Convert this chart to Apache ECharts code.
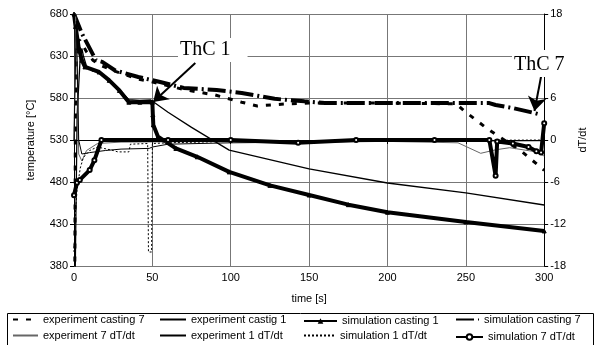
<!DOCTYPE html>
<html>
<head>
<meta charset="utf-8">
<script src="https://cdn.jsdelivr.net/npm/echarts@6/dist/echarts.min.js"></script>
<style>
    html, body { margin: 0; background: #fff; }
    #chart { width: 596px; height: 345px; }
</style>
</head>
<body>
<div id="chart"></div>
<script>
// === DATA: [time s, value] pairs ===
// temperatures [°C], left axis
const expCasting7 = [[0.5, 370], [1, 600], [2, 650], [4, 648], [8, 635], [12, 625], [18, 618], [26, 612], [40, 603], [55, 597], [70, 590], [90, 583.6], [107, 575], [117, 570.5], [135, 573], [150, 574], [200, 574], [244, 573], [249, 564.5], [264, 543], [286, 515.7], [300, 494]];
const expCastig1 = [[0.3, 300], [2, 560], [4, 630], [5, 639], [6, 630], [8, 618], [12, 612], [17, 610], [23, 601], [29, 590], [35, 578], [42, 577], [49, 577.6], [60, 563], [75, 545], [99, 518], [150, 495.5], [200, 478.8], [250, 467], [300, 452.6]];
const simCasting1 = [[0, 680], [1, 665], [3, 640], [5, 625], [7, 617], [16, 611], [22.5, 601], [29, 589], [35, 575], [42, 575], [50, 575], [50.3, 560], [50.6, 548], [53.6, 534], [65, 520], [78.6, 510], [99, 492], [125, 476], [150, 464.5], [175, 453], [200, 444], [250, 432.4], [300, 421.7]];
const simCasting7 = [[0, 680], [5, 657], [14, 625], [18, 623], [26, 613], [41, 605], [55, 599], [70, 592], [91, 589.5], [107, 586], [128, 579], [147, 576], [160, 574], [200, 574], [265, 574], [269, 571.7], [280, 568], [294, 562], [296, 561]];

// cooling rates dT/dt, right axis
const exp7Rate = [[0, 0], [1, 18], [2, 10], [3, -2], [5, -3], [8, -1.5], [15, -0.5], [30, -0.3], [100, -0.2], [200, -0.2], [245, -0.4], [259.5, -1.9], [269, -1.4], [278, -1.1], [295, -1.7], [300, -2.3]];
const exp1Rate = [[0, 0], [1.5, 17], [3, 0], [5, -2], [10, -1.8], [20, -1.5], [30, -1.3], [48, -1.2], [50, -1], [60, -0.6], [100, -0.4], [200, -0.2], [300, -0.1]];
const sim1Rate = [[0, -16], [1, -10], [2, -7], [4, -4], [6, -2.5], [10, -1.5], [15, -1], [25, -1.5], [28, -1.7], [35, -1.7], [36, -0.6], [47, -0.5], [47.5, -16], [49.5, -16], [50, -0.5], [60, -0.4], [100, -0.2], [200, -0.1], [300, 0]];
const sim7Rate = [[0, -7.9], [1.9, -6.1], [3.7, -5.7], [10, -4.3], [13, -2.9], [17.5, 0], [60, 0], [100, 0], [143, -0.4], [180, 0], [230, 0], [265, 0], [269, -5.1], [270, -0.2], [280, -0.5], [290, -1], [295, -1.6], [298, -1.8], [300, 2.4]];

const font = "Liberation Sans";

const chart = echarts.init(document.getElementById("chart"));

const line = (name, data, yAxisIndex, lineStyle, extra) =>
    Object.assign(
        {
            name,
            type: "line",
            data,
            yAxisIndex,
            symbol: "none",
            animation: false,
            lineStyle: Object.assign({ color: "#000", width: 1 }, lineStyle),
            itemStyle: { color: "#000", borderColor: "#000" },
            z: 3,
        },
        extra || {}
    );

// one legend per entry so the 4x2 table lines up like the original
const legendAt = (name, left, top, width, marker) => ({
    data: [name],
    left,
    top: marker ? top + 1.5 : top,
    itemWidth: width,
    itemHeight: marker ? 7 : 10,
    itemGap: 0,
    padding: 0,
    selectedMode: false,
    itemStyle: marker ? {} : { opacity: 0 },
    textStyle: { fontSize: 11, fontFamily: font, color: "#000" },
});

const option = {
    animation: false,
    grid: { left: 74, right: 41, top: 14, bottom: 79 },
    xAxis: {
        type: "value",
        min: 0,
        max: 300,
        interval: 50,
        name: "time [s]",
        nameLocation: "middle",
        nameGap: 27,
        nameTextStyle: { fontSize: 11, fontFamily: font, color: "#000" },
        axisLine: { lineStyle: { color: "#000" } },
        axisTick: { length: 4, lineStyle: { color: "#000" } },
        axisLabel: { fontSize: 11, fontFamily: font, color: "#000", margin: 6 },
        splitLine: { lineStyle: { color: "#777" } },
    },
    yAxis: [
        {
            type: "value",
            min: 380,
            max: 680,
            interval: 50,
            name: "temperature [°C]",
            nameLocation: "middle",
            nameRotate: 90,
            nameGap: 38,
            nameTextStyle: { fontSize: 11, fontFamily: font, color: "#000" },
            axisLine: { show: true, lineStyle: { color: "#000" } },
            axisTick: { show: true, length: 4, lineStyle: { color: "#000" } },
            axisLabel: { fontSize: 11, fontFamily: font, color: "#000", margin: 6 },
            splitLine: { lineStyle: { color: "#777" } },
        },
        {
            type: "value",
            min: -18,
            max: 18,
            interval: 6,
            position: "right",
            name: "dT/dt",
            nameLocation: "middle",
            nameRotate: 90,
            nameGap: 30,
            nameTextStyle: { fontSize: 11, fontFamily: font, color: "#000" },
            axisLine: { show: true, lineStyle: { color: "#000" } },
            axisTick: { show: true, length: 4, lineStyle: { color: "#000" } },
            axisLabel: { fontSize: 11, fontFamily: font, color: "#000", margin: 6 },
            splitLine: { show: false },
        },
    ],
    legend: [
        legendAt("experiment casting 7", 12, 314, 25),
        legendAt("experiment castig 1", 159, 314, 26),
        legendAt("simulation casting 1", 303, 314, 33, true),
        legendAt("simulation casting 7", 455, 314, 23),
        legendAt("experiment 7 dT/dt", 12, 330, 25),
        legendAt("experiment 1 dT/dt", 159, 330, 26),
        legendAt("simulation 1 dT/dt", 303, 330, 31),
        legendAt("simulation 7 dT/dt", 455, 330, 27, true),
    ],
    series: [
        line("experiment casting 7", expCasting7, 0, { width: 3, type: [5, 8] }),
        line("experiment castig 1", expCastig1, 0, { width: 1.3 }),
        line("simulation casting 1", simCasting1, 0, { width: 4 }, {
            symbol: "triangle",
            symbolSize: 4,
            showAllSymbol: true,
            markLine: {
                silent: true,
                symbol: ["none", "arrow"],
                symbolSize: 14,
                label: { show: false },
                lineStyle: { color: "#000", width: 2, type: "solid" },
                data: [
                    [{ coord: [77.4, 621.7] }, { coord: [50.5, 575.2] }],
                    [{ coord: [298.2, 607.4] }, { coord: [293.8, 564.5] }],
                ],
            },
        }),
        line("simulation casting 7", simCasting7, 0, { width: 4, type: [18, 4, 2, 4] }),
        line("experiment 7 dT/dt", exp7Rate, 1, { width: 1, color: "#666" }, { itemStyle: { color: "#666" } }),
        line("experiment 1 dT/dt", exp1Rate, 1, { width: 1 }),
        line("simulation 1 dT/dt", sim1Rate, 1, { width: 1, type: [2, 2] }),
        line("simulation 7 dT/dt", sim7Rate, 1, { width: 4 }, {
            symbol: "emptyCircle",
            symbolSize: 4,
            showAllSymbol: true,
        }),
    ],
    graphic: [
        {
            type: "rect",
            left: 5,
            top: 311,
            shape: { width: 586, height: 33 },
            style: { fill: "none", stroke: "#000", lineWidth: 1 },
        },
        {
            type: "text",
            left: 178,
            top: 38,
            z: 10,
            style: {
                text: "ThC 1",
                font: '20px "Liberation Serif"',
                fill: "#000",
                backgroundColor: "#fff",
                padding: [2, 17, 2, 2],
            },
        },
        {
            type: "text",
            left: 512,
            top: 50,
            z: 10,
            style: {
                text: "ThC 7",
                font: '20px "Liberation Serif"',
                fill: "#000",
                backgroundColor: "#fff",
                padding: [5, 22, 2, 2],
            },
        },
    ],
};

chart.setOption(option);
</script>
</body>
</html>
